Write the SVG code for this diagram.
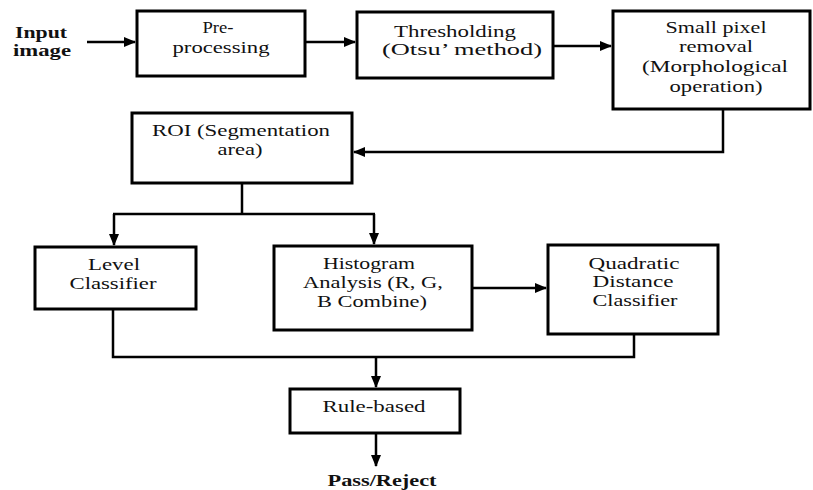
<svg xmlns="http://www.w3.org/2000/svg" width="813" height="490" viewBox="0 0 813 490">
<style>
.box{fill:#fff;stroke:#000;stroke-width:3}
.t{font-family:"Liberation Serif","Times New Roman",serif;font-size:16px;fill:#111;text-anchor:middle}
.b{font-weight:bold}
.c{fill:none;stroke:#000;stroke-width:2.5}
</style>
<defs>
<marker id="ah" markerWidth="12" markerHeight="10" refX="11" refY="5" orient="auto" markerUnits="userSpaceOnUse">
<path d="M0,0 L12,5 L0,10 Z" fill="#000"/>
</marker>
</defs>
<rect width="813" height="490" fill="#fff"/>
<g id="input">
<text class="t b" x="41" y="38" textLength="52" lengthAdjust="spacingAndGlyphs">Input</text>
<text class="t b" x="42" y="56" textLength="58" lengthAdjust="spacingAndGlyphs">image</text>
</g>
<g id="preprocessing">
<rect class="box" x="137" y="11" width="168" height="65"/>
<text class="t" x="218" y="33" textLength="31" lengthAdjust="spacingAndGlyphs">Pre-</text>
<text class="t" x="221" y="53" textLength="97" lengthAdjust="spacingAndGlyphs">processing</text>
</g>
<g id="thresholding">
<rect class="box" x="357" y="12" width="196" height="66"/>
<text class="t" x="455" y="37" textLength="122" lengthAdjust="spacingAndGlyphs">Thresholding</text>
<text class="t" x="462" y="55" textLength="160" lengthAdjust="spacingAndGlyphs">(Otsu’ method)</text>
</g>
<g id="smallpixel">
<rect class="box" x="613" y="11" width="197" height="98"/>
<text class="t" x="716" y="33" textLength="101" lengthAdjust="spacingAndGlyphs">Small pixel</text>
<text class="t" x="716" y="52" textLength="74" lengthAdjust="spacingAndGlyphs">removal</text>
<text class="t" x="715" y="72" textLength="146" lengthAdjust="spacingAndGlyphs">(Morphological</text>
<text class="t" x="716" y="92" textLength="93" lengthAdjust="spacingAndGlyphs">operation)</text>
</g>
<g id="roi">
<rect class="box" x="132" y="113" width="220" height="70"/>
<text class="t" x="241" y="136" textLength="178" lengthAdjust="spacingAndGlyphs">ROI (Segmentation</text>
<text class="t" x="240" y="155" textLength="45" lengthAdjust="spacingAndGlyphs">area)</text>
</g>
<g id="level">
<rect class="box" x="35" y="247" width="161" height="62"/>
<text class="t" x="114" y="270" textLength="52" lengthAdjust="spacingAndGlyphs">Level</text>
<text class="t" x="113" y="289" textLength="87" lengthAdjust="spacingAndGlyphs">Classifier</text>
</g>
<g id="histogram">
<rect class="box" x="274" y="246" width="198" height="84"/>
<text class="t" x="369" y="269" textLength="92" lengthAdjust="spacingAndGlyphs">Histogram</text>
<text class="t" x="373" y="288" textLength="140" lengthAdjust="spacingAndGlyphs">Analysis (R, G,</text>
<text class="t" x="372" y="307" textLength="110" lengthAdjust="spacingAndGlyphs">B Combine)</text>
</g>
<g id="quadratic">
<rect class="box" x="548" y="245" width="170" height="89"/>
<text class="t" x="634" y="269" textLength="91" lengthAdjust="spacingAndGlyphs">Quadratic</text>
<text class="t" x="633" y="287" textLength="81" lengthAdjust="spacingAndGlyphs">Distance</text>
<text class="t" x="635" y="306" textLength="85" lengthAdjust="spacingAndGlyphs">Classifier</text>
</g>
<g id="rulebased">
<rect class="box" x="290" y="389" width="170" height="44"/>
<text class="t" x="374" y="412" textLength="103" lengthAdjust="spacingAndGlyphs">Rule-based</text>
</g>
<g id="passreject">
<text class="t b" x="382" y="486" textLength="109" lengthAdjust="spacingAndGlyphs">Pass/Reject</text>
</g>
<g id="connectors">
<line class="c" x1="87" y1="42" x2="135" y2="42" marker-end="url(#ah)"/>
<line class="c" x1="305" y1="42" x2="355" y2="42" marker-end="url(#ah)"/>
<line class="c" x1="553" y1="46" x2="611" y2="46" marker-end="url(#ah)"/>
<polyline class="c" points="723,109 723,152 354,152" marker-end="url(#ah)"/>
<line class="c" x1="242" y1="183" x2="242" y2="214"/>
<line class="c" x1="113" y1="214" x2="375" y2="214"/>
<line class="c" x1="114" y1="214" x2="114" y2="245" marker-end="url(#ah)"/>
<line class="c" x1="374" y1="214" x2="374" y2="244" marker-end="url(#ah)"/>
<line class="c" x1="472" y1="288" x2="546" y2="288" marker-end="url(#ah)"/>
<polyline class="c" points="113,309 113,357 634,357 634,334"/>
<line class="c" x1="376" y1="357" x2="376" y2="387" marker-end="url(#ah)"/>
<line class="c" x1="376" y1="433" x2="376" y2="466" marker-end="url(#ah)"/>
</g>
</svg>
